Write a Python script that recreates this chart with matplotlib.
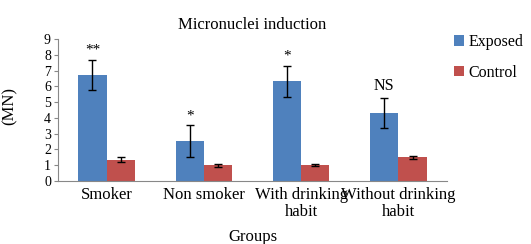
import matplotlib
matplotlib.use("Agg")
import matplotlib.pyplot as plt
import numpy as np

plt.rcParams['font.family'] = ['Liberation Serif', 'DejaVu Serif']

categories = ["Smoker", "Non smoker", "With drinking\nhabit", "Without drinking\nhabit"]
exposed = [6.73, 2.52, 6.33, 4.31]
exposed_err = [0.97, 1.02, 0.99, 0.97]
control = [1.35, 1.00, 1.02, 1.50]
control_err = [0.15, 0.08, 0.08, 0.10]
signif = ["**", "*", "*", "NS"]
yticks = list(range(0, 10))

blue = "#4F81BD"
red = "#C0504D"

fig = plt.figure(figsize=(5.31, 2.44), dpi=100)
ax = fig.add_axes([0.109, 0.258, 0.733, 0.582])

x = np.arange(len(categories))
w = 0.29
ax.bar(x - w/2, exposed, w, color=blue, yerr=exposed_err, capsize=3,
       error_kw=dict(ecolor='black', elinewidth=1, capthick=1), label="Exposed")
ax.bar(x + w/2, control, w, color=red, yerr=control_err, capsize=3,
       error_kw=dict(ecolor='black', elinewidth=1, capthick=1), label="Control")

for xi, m, e, s in zip(x, exposed, exposed_err, signif):
    if s == "NS":
        ax.annotate(s, (xi - w/2, m + e), xytext=(0, 3), textcoords='offset points',
                    ha='center', va='bottom', fontsize=11.5)
    else:
        ax.annotate(s, (xi - w/2, m + e), xytext=(0, 2), textcoords='offset points',
                    ha='center', va='bottom', fontsize=11)

ax.set_xlim(-0.5, 3.5)
ax.set_ylim(0, 9)
ax.set_yticks(yticks)
ax.set_xticks(x)
ax.set_xticklabels(categories, fontsize=12, linespacing=1.15)
ax.tick_params(axis='x', length=0, pad=4)
ax.tick_params(axis='y', labelsize=10, length=3, color='#888888', pad=2)
for sp in ['top', 'right']:
    ax.spines[sp].set_visible(False)
for sp in ['left', 'bottom']:
    ax.spines[sp].set_color('#888888')

ax.set_title("Micronuclei induction", fontsize=12, pad=7)
ax.set_ylabel("(MN)", fontsize=12)
ax.yaxis.set_label_coords(-0.103, 0.53)
fig.text(0.476, -0.005, "Groups", ha='center', va='bottom', fontsize=12)

ax.legend(loc='upper left', bbox_to_anchor=(0.855, 0.86), bbox_transform=fig.transFigure,
          frameon=False, fontsize=11.5, handlelength=0.6, handleheight=0.6,
          handletextpad=0.3, labelspacing=0.9, borderaxespad=0, borderpad=0)

fig.savefig("out.png", dpi=100)
